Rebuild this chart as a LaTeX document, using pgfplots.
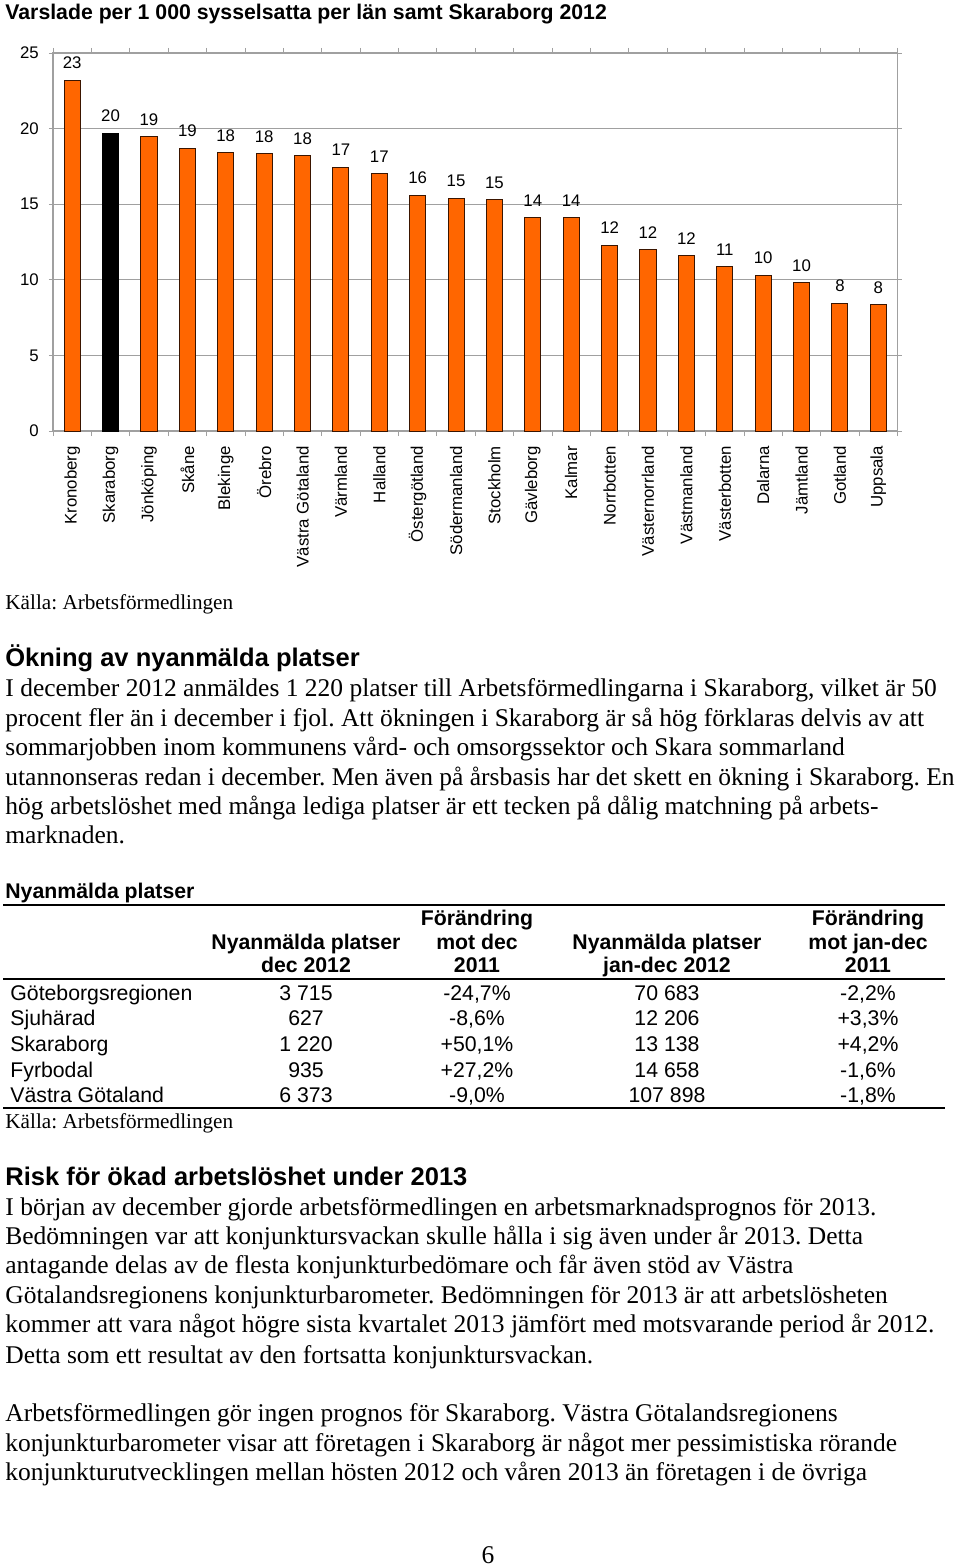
\documentclass[border=0pt]{standalone}
\usepackage{fontspec}
\setmainfont{Liberation Serif}
\newfontfamily\arial{Liberation Sans}
\usepackage{pgfplots}
\pgfplotsset{compat=1.18}
\frenchspacing
\definecolor{barorange}{HTML}{FF6600}
\definecolor{baredge}{HTML}{3A1500}
\definecolor{axgray}{HTML}{A0A0A0}
\newcommand{\bodyf}{\fontsize{12.75}{14.85}\selectfont}
\newcommand{\headf}{\arial\bfseries\fontsize{12.75}{14.85}\selectfont}
\newcommand{\tabf}{\arial\fontsize{10.63}{12}\selectfont}
\newcommand{\tabb}{\arial\bfseries\fontsize{10.63}{12}\selectfont}
\newcommand{\srcf}{\fontsize{10.6}{12}\selectfont}
\newcommand{\chartf}{\arial\fontsize{8.4}{10}\selectfont}
% one line of body text, baseline at pixel row #1
\newcommand{\bline}[2]{\node[anchor=base west,inner sep=0pt,font=\bodyf] at (5,#1) {#2};}
% one table row
\newcommand{\trow}[6]{%
  \node[anchor=base west,inner sep=0pt,font=\tabf] at (10,#1) {#2};
  \node[anchor=base,inner sep=0pt,font=\tabf] at (306,#1) {#3};
  \node[anchor=base,inner sep=0pt,font=\tabf] at (477,#1) {#4};
  \node[anchor=base,inner sep=0pt,font=\tabf] at (667,#1) {#5};
  \node[anchor=base,inner sep=0pt,font=\tabf] at (868,#1) {#6};}

\begin{document}
\begin{tikzpicture}
\begin{scope}[x=0.5pt,y=-0.5pt]
\fill[white] (0,0) rectangle (960,1567);
\node[anchor=base west,inner sep=0pt,font=\tabb] at (5,19.5) {Varslade per 1 000 sysselsatta per län samt Skaraborg 2012};
\end{scope}

\begin{axis}[
  at={(26.5pt,-215.5pt)}, anchor=south west,
  scale only axis, width=422.25pt, height=189pt,
  xmin=-0.5, xmax=21.5, ymin=0, ymax=25,
  ytick={0,5,...,25},
  xtick={0,...,21},
  xticklabels={Kronoberg,Skaraborg,Jönköping,Skåne,Blekinge,Örebro,Västra Götaland,Värmland,Halland,Östergötland,Södermanland,Stockholm,Gävleborg,Kalmar,Norrbotten,Västernorrland,Västmanland,Västerbotten,Dalarna,Jämtland,Gotland,Uppsala},
  xticklabel style={rotate=90, anchor=east, font=\chartf},
  yticklabel style={font=\chartf},
  /pgf/number format/assume math mode=true,
  xticklabel shift=2pt, yticklabel shift=1.6pt,
  minor xtick={-0.5,0.5,...,21.5},
  major x tick style={draw=none},
  tick align=outside,
  major tick length=2pt, minor tick length=2.5pt,
  every tick/.style={axgray},
  ymajorgrids, grid style={axgray, line width=0.6pt},
  axis line style={axgray, line width=0.6pt},
  bar width=0.42,
  nodes near coords={\pgfmathprintnumber[fixed,precision=0]{\pgfplotspointmeta}},
  every node near coord/.append style={font=\chartf, yshift=2pt, black},
]
\addplot[ybar, bar shift=0pt, fill=barorange, draw=baredge, line width=0.5pt]
  coordinates {(0,23.2)(2,19.45)(3,18.7)(4,18.4)(5,18.35)(6,18.2)(7,17.45)(8,17.0)(9,15.6)(10,15.4)
  (11,15.3)(12,14.1)(13,14.1)(14,12.3)(15,12.0)(16,11.6)(17,10.9)(18,10.3)(19,9.8)(20,8.45)(21,8.35)};
\addplot[ybar, bar shift=0pt, fill=black, draw=black, line width=0.5pt]
  coordinates {(1,19.7)};
\end{axis}

\begin{scope}[x=0.5pt,y=-0.5pt]
\node[anchor=base west,inner sep=0pt,font=\srcf] at (5,609) {Källa: Arbetsförmedlingen};

\node[anchor=base west,inner sep=0pt,font=\headf] at (5,666) {Ökning av nyanmälda platser};
\bline{696}{I december 2012 anmäldes 1 220 platser till Arbetsförmedlingarna i Skaraborg, vilket är 50}
\bline{726}{procent fler än i december i fjol. Att ökningen i Skaraborg är så hög förklaras delvis av att}
\bline{755.7}{sommarjobben inom kommunens vård- och omsorgssektor och Skara sommarland}
\bline{785}{utannonseras redan i december. Men även på årsbasis har det skett en ökning i Skaraborg. En}
\bline{814}{hög arbetslöshet med många lediga platser är ett tecken på dålig matchning på arbets-}
\bline{843.5}{marknaden.}

% table
\node[anchor=base west,inner sep=0pt,font=\tabb] at (5,898) {Nyanmälda platser};
\draw[line width=1pt] (3,904.5) -- (945,904.5);
\node[anchor=base,inner sep=0pt,font=\tabb] at (306,949) {Nyanmälda platser};
\node[anchor=base,inner sep=0pt,font=\tabb] at (306,972) {dec 2012};
\node[anchor=base,inner sep=0pt,font=\tabb] at (477,925) {Förändring};
\node[anchor=base,inner sep=0pt,font=\tabb] at (477,949) {mot dec};
\node[anchor=base,inner sep=0pt,font=\tabb] at (477,972) {2011};
\node[anchor=base,inner sep=0pt,font=\tabb] at (667,949) {Nyanmälda platser};
\node[anchor=base,inner sep=0pt,font=\tabb] at (667,972) {jan-dec 2012};
\node[anchor=base,inner sep=0pt,font=\tabb] at (868,925) {Förändring};
\node[anchor=base,inner sep=0pt,font=\tabb] at (868,949) {mot jan-dec};
\node[anchor=base,inner sep=0pt,font=\tabb] at (868,972) {2011};
\draw[line width=1pt] (3,978.7) -- (945,978.7);
\trow{1000}{Göteborgsregionen}{3 715}{-24,7\%}{70 683}{-2,2\%}
\trow{1025.7}{Sjuhärad}{627}{-8,6\%}{12 206}{+3,3\%}
\trow{1051.3}{Skaraborg}{1 220}{+50,1\%}{13 138}{+4,2\%}
\trow{1077}{Fyrbodal}{935}{+27,2\%}{14 658}{-1,6\%}
\trow{1102.5}{Västra Götaland}{6 373}{-9,0\%}{107 898}{-1,8\%}
\draw[line width=1pt] (3,1107.8) -- (945,1107.8);
\node[anchor=base west,inner sep=0pt,font=\srcf] at (5,1128) {Källa: Arbetsförmedlingen};

\node[anchor=base west,inner sep=0pt,font=\headf] at (5,1185.7) {Risk för ökad arbetslöshet under 2013};
\bline{1215.3}{I början av december gjorde arbetsförmedlingen en arbetsmarknadsprognos för 2013.}
\bline{1244.7}{Bedömningen var att konjunktursvackan skulle hålla i sig även under år 2013. Detta}
\bline{1273.3}{antagande delas av de flesta konjunkturbedömare och får även stöd av Västra}
\bline{1303.3}{Götalandsregionens konjunkturbarometer. Bedömningen för 2013 är att arbetslösheten}
\bline{1332.7}{kommer att vara något högre sista kvartalet 2013 jämfört med motsvarande period år 2012.}
\bline{1363.3}{Detta som ett resultat av den fortsatta konjunktursvackan.}
\bline{1421.7}{Arbetsförmedlingen gör ingen prognos för Skaraborg. Västra Götalandsregionens}
\bline{1451.7}{konjunkturbarometer visar att företagen i Skaraborg är något mer pessimistiska rörande}
\bline{1480}{konjunkturutvecklingen mellan hösten 2012 och våren 2013 än företagen i de övriga}

\node[anchor=base,inner sep=0pt,font=\bodyf] at (488,1563) {6};
\end{scope}
\end{tikzpicture}
\end{document}
